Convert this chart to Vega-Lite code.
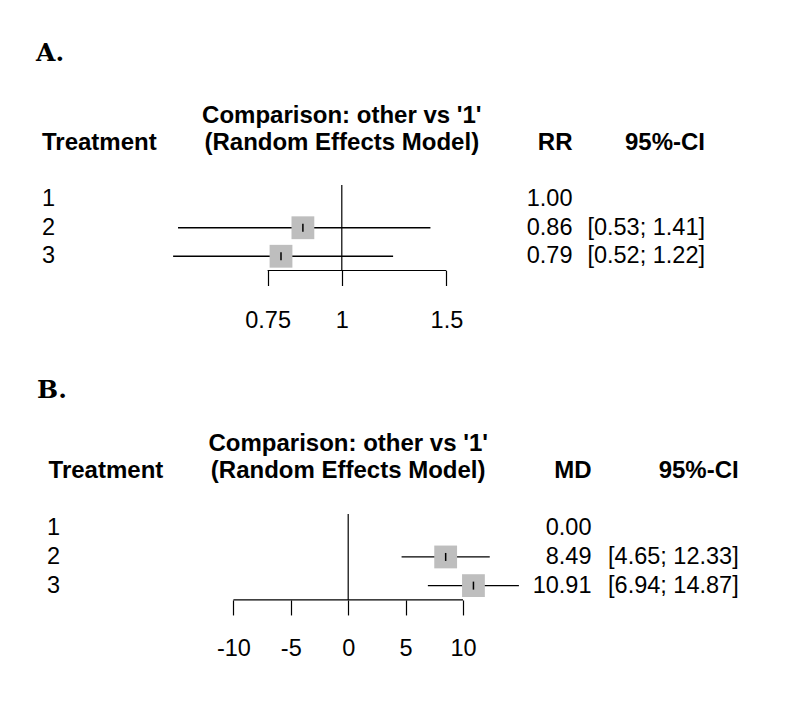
{
  "$schema": "https://vega.github.io/schema/vega-lite/v6.json",
  "background": "white",
  "padding": {"left": 36, "top": 41, "right": 10, "bottom": 10},
  "bounds": "flush",
  "spacing": 328.95,
  "config": {
    "view": {"stroke": null},
    "text": {"font": "Liberation Sans", "fontSize": 23.5, "color": "black", "baseline": "alphabetic"}
  },
  "datasets": {
    "rr": [
      {"treatment": "1", "row": 1, "est": 1.0, "lower": null, "upper": null, "est_label": "1.00", "ci": ""},
      {"treatment": "2", "row": 2, "est": 0.86, "lower": 0.53, "upper": 1.41, "est_label": "0.86", "ci": "[0.53; 1.41]"},
      {"treatment": "3", "row": 3, "est": 0.79, "lower": 0.52, "upper": 1.22, "est_label": "0.79", "ci": "[0.52; 1.22]"}
    ],
    "md": [
      {"treatment": "1", "row": 1, "est": 0.0, "lower": null, "upper": null, "est_label": "0.00", "ci": ""},
      {"treatment": "2", "row": 2, "est": 8.49, "lower": 4.65, "upper": 12.33, "est_label": "8.49", "ci": "[4.65; 12.33]"},
      {"treatment": "3", "row": 3, "est": 10.91, "lower": 6.94, "upper": 14.87, "est_label": "10.91", "ci": "[6.94; 14.87]"}
    ]
  },
  "vconcat": [
    {
      "bounds": "flush",
      "spacing": 0,
      "hconcat": [
        {
          "width": 120.2,
          "height": 85.5,
          "layer": [
            {
              "data": {"values": [{"panel": "A."}]},
              "mark": {"type": "text", "align": "left", "font": "DejaVu Serif", "fontWeight": "bold", "fontSize": 25, "dx": -6},
              "encoding": {
                "x": {"value": 0},
                "y": {"datum": -3.84, "type": "quantitative", "scale": {"domain": [0.5, 3.5], "reverse": true}, "axis": null},
                "text": {"field": "panel"}
              }
            },
            {
              "data": {"values": [{"header": "Treatment"}]},
              "mark": {"type": "text", "align": "left", "fontWeight": "bold", "fontSize": 24},
              "encoding": {
                "x": {"value": 0},
                "y": {"datum": -0.73, "type": "quantitative", "scale": {"domain": [0.5, 3.5], "reverse": true}, "axis": null},
                "text": {"field": "header"}
              }
            },
            {
              "data": {"name": "rr"},
              "mark": {"type": "text", "align": "left", "baseline": "middle"},
              "encoding": {
                "x": {"value": 0},
                "y": {"field": "row", "type": "quantitative", "scale": {"domain": [0.5, 3.5], "reverse": true}, "axis": null},
                "text": {"field": "treatment"}
              }
            }
          ]
        },
        {
          "width": 357.6,
          "height": 85.5,
          "layer": [
            {
              "data": {"name": "rr"},
              "transform": [{"filter": "isValid(datum.lower)"}],
              "mark": {"type": "rule", "color": "black", "strokeWidth": 1.3},
              "encoding": {
                "x": {
                  "field": "lower", "type": "quantitative",
                  "scale": {"type": "log", "domain": [0.5, 2], "nice": false},
                  "axis": {
                    "values": [0.75, 1, 1.5], "labelExpr": "toString(datum.value)", "title": null,
                    "domain": false, "grid": false, "ticks": true, "tickSize": 15,
                    "tickColor": "black", "tickWidth": 1.2,
                    "labelFont": "Liberation Sans", "labelFontSize": 23.5, "labelColor": "black",
                    "labelPadding": 23, "labelFlush": false, "labelOverlap": false
                  }
                },
                "x2": {"field": "upper"},
                "y": {"field": "row", "type": "quantitative", "scale": {"domain": [0.5, 3.5], "reverse": true}, "axis": null}
              }
            },
            {
              "data": {"values": [{"null_effect": 1}]},
              "mark": {"type": "rule", "color": "black", "strokeWidth": 1.2},
              "encoding": {"x": {"field": "null_effect", "type": "quantitative"}}
            },
            {
              "data": {"values": [{}]},
              "mark": {"type": "rule", "color": "black", "strokeWidth": 1.2},
              "encoding": {
                "x": {"datum": 0.75, "type": "quantitative"},
                "x2": {"datum": 1.5},
                "y": {"datum": 3.5, "type": "quantitative", "scale": {"domain": [0.5, 3.5], "reverse": true}, "axis": null}
              }
            },
            {
              "data": {"name": "rr"},
              "transform": [{"filter": "isValid(datum.lower)"}],
              "mark": {"type": "square", "filled": true, "color": "#bebebe", "opacity": 1, "size": 520},
              "encoding": {
                "x": {"field": "est", "type": "quantitative"},
                "y": {"field": "row", "type": "quantitative", "scale": {"domain": [0.5, 3.5], "reverse": true}, "axis": null}
              }
            },
            {
              "data": {"name": "rr"},
              "transform": [{"filter": "isValid(datum.lower)"}],
              "mark": {"type": "tick", "orient": "vertical", "color": "black", "size": 8, "thickness": 1.5, "opacity": 1},
              "encoding": {
                "x": {"field": "est", "type": "quantitative"},
                "y": {"field": "row", "type": "quantitative", "scale": {"domain": [0.5, 3.5], "reverse": true}, "axis": null}
              }
            },
            {
              "data": {"values": [{"header": "Comparison: other vs '1'"}]},
              "mark": {"type": "text", "align": "center", "fontWeight": "bold", "fontSize": 24},
              "encoding": {
                "x": {"datum": 1, "type": "quantitative"},
                "y": {"datum": -1.68, "type": "quantitative", "scale": {"domain": [0.5, 3.5], "reverse": true}, "axis": null},
                "text": {"field": "header"}
              }
            },
            {
              "data": {"values": [{"header": "(Random Effects Model)"}]},
              "mark": {"type": "text", "align": "center", "fontWeight": "bold", "fontSize": 24},
              "encoding": {
                "x": {"datum": 1, "type": "quantitative"},
                "y": {"datum": -0.73, "type": "quantitative", "scale": {"domain": [0.5, 3.5], "reverse": true}, "axis": null},
                "text": {"field": "header"}
              }
            }
          ]
        },
        {
          "width": 51.5,
          "height": 85.5,
          "layer": [
            {
              "data": {"values": [{"header": "RR"}]},
              "mark": {"type": "text", "align": "right", "fontWeight": "bold", "fontSize": 24},
              "encoding": {
                "x": {"value": "width"},
                "y": {"datum": -0.73, "type": "quantitative", "scale": {"domain": [0.5, 3.5], "reverse": true}, "axis": null},
                "text": {"field": "header"}
              }
            },
            {
              "data": {"name": "rr"},
              "mark": {"type": "text", "align": "right", "baseline": "middle"},
              "encoding": {
                "x": {"value": "width"},
                "y": {"field": "row", "type": "quantitative", "scale": {"domain": [0.5, 3.5], "reverse": true}, "axis": null},
                "text": {"field": "est_label"}
              }
            }
          ]
        },
        {
          "width": 132,
          "height": 85.5,
          "layer": [
            {
              "data": {"values": [{"header": "95%-CI"}]},
              "mark": {"type": "text", "align": "right", "fontWeight": "bold", "fontSize": 24},
              "encoding": {
                "x": {"value": "width"},
                "y": {"datum": -0.73, "type": "quantitative", "scale": {"domain": [0.5, 3.5], "reverse": true}, "axis": null},
                "text": {"field": "header"}
              }
            },
            {
              "data": {"name": "rr"},
              "mark": {"type": "text", "align": "right", "baseline": "middle"},
              "encoding": {
                "x": {"value": "width"},
                "y": {"field": "row", "type": "quantitative", "scale": {"domain": [0.5, 3.5], "reverse": true}, "axis": null},
                "text": {"field": "ci"}
              }
            }
          ]
        }
      ]
    },
    {
      "bounds": "flush",
      "spacing": 0,
      "hconcat": [
        {
          "width": 133.4,
          "height": 86,
          "layer": [
            {
              "data": {"values": [{"panel": "B."}]},
              "mark": {"type": "text", "align": "left", "font": "DejaVu Serif", "fontWeight": "bold", "fontSize": 25, "dx": -5},
              "encoding": {
                "x": {"value": 0},
                "y": {"datum": -3.56, "type": "quantitative", "scale": {"domain": [0.5, 3.5], "reverse": true}, "axis": null},
                "text": {"field": "panel"}
              }
            },
            {
              "data": {"values": [{"header": "Treatment"}]},
              "mark": {"type": "text", "align": "left", "fontWeight": "bold", "fontSize": 24, "dx": 6.6},
              "encoding": {
                "x": {"value": 0},
                "y": {"datum": -0.75, "type": "quantitative", "scale": {"domain": [0.5, 3.5], "reverse": true}, "axis": null},
                "text": {"field": "header"}
              }
            },
            {
              "data": {"name": "md"},
              "mark": {"type": "text", "align": "left", "baseline": "middle", "dx": 5},
              "encoding": {
                "x": {"value": 0},
                "y": {"field": "row", "type": "quantitative", "scale": {"domain": [0.5, 3.5], "reverse": true}, "axis": null},
                "text": {"field": "treatment"}
              }
            }
          ]
        },
        {
          "width": 344.4,
          "height": 86,
          "layer": [
            {
              "data": {"name": "md"},
              "transform": [{"filter": "isValid(datum.lower)"}],
              "mark": {"type": "rule", "color": "black", "strokeWidth": 1.3},
              "encoding": {
                "x": {
                  "field": "lower", "type": "quantitative",
                  "scale": {"domain": [-15, 15], "nice": false, "zero": false},
                  "axis": {
                    "values": [-10, -5, 0, 5, 10], "labelExpr": "toString(datum.value)", "title": null,
                    "domain": false, "grid": false, "ticks": true, "tickSize": 15,
                    "tickColor": "black", "tickWidth": 1.2,
                    "labelFont": "Liberation Sans", "labelFontSize": 23.5, "labelColor": "black",
                    "labelPadding": 21.5, "labelFlush": false, "labelOverlap": false
                  }
                },
                "x2": {"field": "upper"},
                "y": {"field": "row", "type": "quantitative", "scale": {"domain": [0.5, 3.5], "reverse": true}, "axis": null}
              }
            },
            {
              "data": {"values": [{"null_effect": 0}]},
              "mark": {"type": "rule", "color": "black", "strokeWidth": 1.2},
              "encoding": {"x": {"field": "null_effect", "type": "quantitative"}}
            },
            {
              "data": {"values": [{}]},
              "mark": {"type": "rule", "color": "black", "strokeWidth": 1.2},
              "encoding": {
                "x": {"datum": -10, "type": "quantitative"},
                "x2": {"datum": 10},
                "y": {"datum": 3.5, "type": "quantitative", "scale": {"domain": [0.5, 3.5], "reverse": true}, "axis": null}
              }
            },
            {
              "data": {"name": "md"},
              "transform": [{"filter": "isValid(datum.lower)"}],
              "mark": {"type": "square", "filled": true, "color": "#bebebe", "opacity": 1, "size": 520},
              "encoding": {
                "x": {"field": "est", "type": "quantitative"},
                "y": {"field": "row", "type": "quantitative", "scale": {"domain": [0.5, 3.5], "reverse": true}, "axis": null}
              }
            },
            {
              "data": {"name": "md"},
              "transform": [{"filter": "isValid(datum.lower)"}],
              "mark": {"type": "tick", "orient": "vertical", "color": "black", "size": 8, "thickness": 1.5, "opacity": 1},
              "encoding": {
                "x": {"field": "est", "type": "quantitative"},
                "y": {"field": "row", "type": "quantitative", "scale": {"domain": [0.5, 3.5], "reverse": true}, "axis": null}
              }
            },
            {
              "data": {"values": [{"header": "Comparison: other vs '1'"}]},
              "mark": {"type": "text", "align": "center", "fontWeight": "bold", "fontSize": 24},
              "encoding": {
                "x": {"datum": 0, "type": "quantitative"},
                "y": {"datum": -1.69, "type": "quantitative", "scale": {"domain": [0.5, 3.5], "reverse": true}, "axis": null},
                "text": {"field": "header"}
              }
            },
            {
              "data": {"values": [{"header": "(Random Effects Model)"}]},
              "mark": {"type": "text", "align": "center", "fontWeight": "bold", "fontSize": 24},
              "encoding": {
                "x": {"datum": 0, "type": "quantitative"},
                "y": {"datum": -0.75, "type": "quantitative", "scale": {"domain": [0.5, 3.5], "reverse": true}, "axis": null},
                "text": {"field": "header"}
              }
            }
          ]
        },
        {
          "width": 70.5,
          "height": 86,
          "layer": [
            {
              "data": {"values": [{"header": "MD"}]},
              "mark": {"type": "text", "align": "right", "fontWeight": "bold", "fontSize": 24},
              "encoding": {
                "x": {"value": "width"},
                "y": {"datum": -0.75, "type": "quantitative", "scale": {"domain": [0.5, 3.5], "reverse": true}, "axis": null},
                "text": {"field": "header"}
              }
            },
            {
              "data": {"name": "md"},
              "mark": {"type": "text", "align": "right", "baseline": "middle"},
              "encoding": {
                "x": {"value": "width"},
                "y": {"field": "row", "type": "quantitative", "scale": {"domain": [0.5, 3.5], "reverse": true}, "axis": null},
                "text": {"field": "est_label"}
              }
            }
          ]
        },
        {
          "width": 146.7,
          "height": 86,
          "layer": [
            {
              "data": {"values": [{"header": "95%-CI"}]},
              "mark": {"type": "text", "align": "right", "fontWeight": "bold", "fontSize": 24},
              "encoding": {
                "x": {"value": "width"},
                "y": {"datum": -0.75, "type": "quantitative", "scale": {"domain": [0.5, 3.5], "reverse": true}, "axis": null},
                "text": {"field": "header"}
              }
            },
            {
              "data": {"name": "md"},
              "mark": {"type": "text", "align": "right", "baseline": "middle"},
              "encoding": {
                "x": {"value": "width"},
                "y": {"field": "row", "type": "quantitative", "scale": {"domain": [0.5, 3.5], "reverse": true}, "axis": null},
                "text": {"field": "ci"}
              }
            }
          ]
        }
      ]
    }
  ]
}
